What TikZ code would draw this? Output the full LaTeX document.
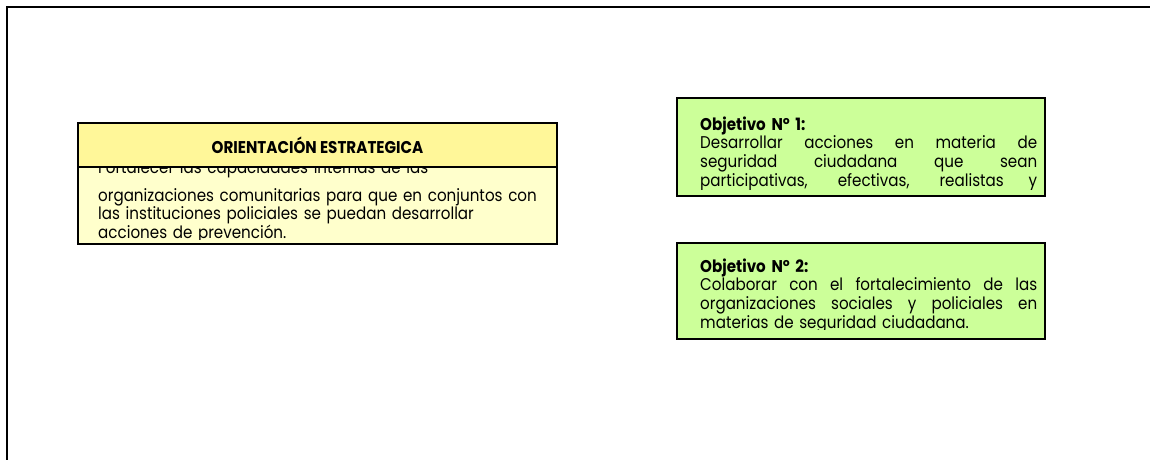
\documentclass[tikz,border=0pt]{standalone}
\usepackage{fontspec}
\setmainfont{Poppins}[FakeStretch=0.89]
\usetikzlibrary{positioning}

\definecolor{headyellow}{HTML}{FFF799}
\definecolor{paleyellow}{HTML}{FFFFCC}
\definecolor{objgreen}{HTML}{CCFF99}

% one justified line of a box
\newcommand{\jline}[1]{\leavevmode\hbox to \linewidth{\spaceskip=0.25em plus 1fil\relax #1}}

\begin{document}
\begin{tikzpicture}[x=1pt, y=-1pt,
    frame/.style={line width=2pt, black},
    panel/.style={draw=black, line width=1.5pt, anchor=north west, inner sep=0pt, outer sep=0pt},
    bodytext/.style={anchor=base west, inner sep=0pt, align=left, text width=#1,
        font=\fontsize{17}{18.7}\selectfont}]
\useasboundingbox (0,0) rectangle (1150,459);
% page frame, only top and left edges show
\coordinate (fbl) at (6.5,470);
\coordinate (fcorner) at (6.5,6.5);
\coordinate (ftr) at (1160,6.5);
\draw[frame] (fbl) -- (fcorner) -- (ftr);

% orientation box
\node[panel, fill=paleyellow, minimum width=479pt, minimum height=121pt] (orient) at (78,123) {};
\begin{scope}
    \clip ([yshift=5pt]orient.south west) rectangle (orient.north east);
    \node[bodytext=450pt] (orienttext) at (98,173)
        {Fortalecer las capacidades internas de las\\[9.5pt]
         organizaciones comunitarias para que en conjuntos con\\
         las instituciones policiales se puedan desarrollar\\
         acciones de prevención.};
\end{scope}
\node[panel, fill=headyellow, minimum width=479pt, minimum height=44pt,
    font=\bfseries\fontsize{17}{19}\selectfont] (orienthead) at (orient.north west) {ORIENTACIÓN ESTRATEGICA};
\draw[line width=1.5pt] (orient.north west) rectangle (orient.south east);

% objective 1
\node[panel, fill=objgreen, minimum width=368pt, minimum height=98pt] (obj1) at (677,98) {};
\begin{scope}
    \clip ([yshift=7pt]obj1.south west) rectangle (obj1.north east);
    \node[bodytext=337pt] (obj1text) at ([shift={(23,32)}]obj1.north west)
        {\textbf{Objetivo Nº 1:}\\
         \jline{Desarrollar acciones en materia de}\\
         \jline{seguridad ciudadana que sean}\\
         \jline{participativas, efectivas, realistas y}};
\end{scope}

% objective 2
\node[panel, fill=objgreen, minimum width=368pt, minimum height=96pt] (obj2) at (677,243) {};
\begin{scope}
    \clip ([yshift=10pt]obj2.south west) rectangle (obj2.north east);
    \node[bodytext=337pt] (obj2text) at ([shift={(23,29)}]obj2.north west)
        {\textbf{Objetivo Nº 2:}\\
         \jline{Colaborar con el fortalecimiento de las}\\
         \jline{organizaciones sociales y policiales en}\\
         materias de seguridad ciudadana.};
\end{scope}
\end{tikzpicture}
\end{document}
